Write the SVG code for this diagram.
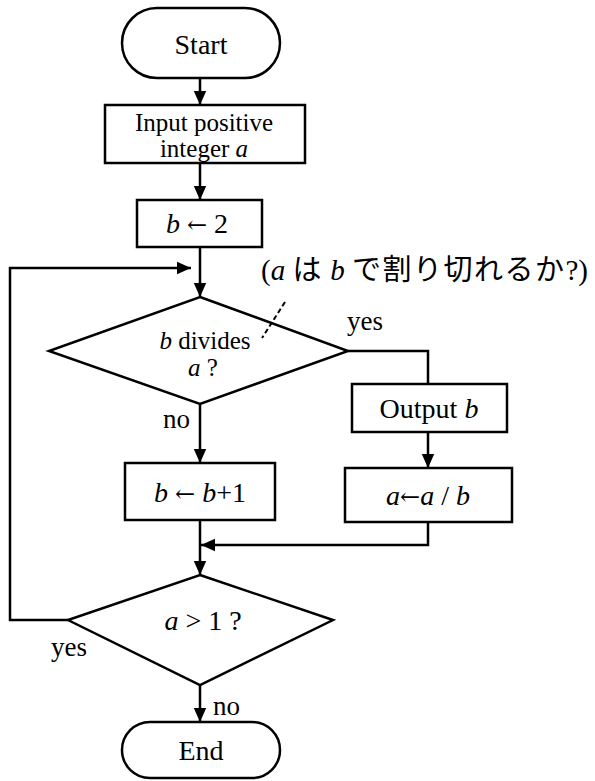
<svg xmlns="http://www.w3.org/2000/svg" width="595" height="781" viewBox="0 0 595 781">
<style>
.s{fill:#fff;stroke:#000;stroke-width:2.5}
.c{fill:none;stroke:#000;stroke-width:2.5}
.t{font-family:"Liberation Serif","Times New Roman",serif;font-size:28px;fill:#000;text-anchor:middle}
.m{font-size:25px}
.l{font-family:"Liberation Serif","Times New Roman",serif;font-size:27px;fill:#000}
.i{font-style:italic}
.r{font-family:"DejaVu Serif",serif;font-size:24px}
.j{font-family:"Liberation Serif","Noto Sans CJK JP",serif;font-size:29px;fill:#000}
.k{font-family:"Noto Sans CJK JP",sans-serif;font-size:29px;letter-spacing:1.5px}
</style>
<defs>
<marker id="ah" markerWidth="14" markerHeight="16" refX="18" refY="8" orient="auto" markerUnits="userSpaceOnUse" viewBox="0 0 18 16">
<path d="M0,0 L18,8 L0,16 Z" fill="#000"/>
</marker>
</defs>
<g id="start">
<rect class="s" x="122" y="8" width="158" height="70" rx="35" ry="35"/>
<text class="t" x="201" y="54">Start</text>
</g>
<g id="input">
<rect class="s" x="105" y="105" width="200" height="58"/>
<text class="t m" x="204" y="131">Input positive</text>
<text class="t m" x="204" y="157">integer <tspan class="i">a</tspan></text>
</g>
<g id="init">
<rect class="s" x="137" y="200" width="125" height="47"/>
<text class="t" x="197" y="233"><tspan class="i">b</tspan> <tspan class="r">←</tspan> 2</text>
</g>
<g id="divides">
<polygon class="s" points="200,297 348,351 200,404 49,351"/>
<text class="t m" x="205" y="349"><tspan class="i">b</tspan> divides</text>
<text class="t m" x="203" y="376"><tspan class="i">a</tspan> ?</text>
</g>
<g id="output">
<rect class="s" x="352" y="384" width="155" height="48"/>
<text class="t" x="429" y="418">Output <tspan class="i">b</tspan></text>
</g>
<g id="incr">
<rect class="s" x="125" y="463" width="150" height="57"/>
<text class="t" x="200" y="502"><tspan class="i">b</tspan> <tspan class="r">←</tspan> <tspan class="i">b</tspan>+1</text>
</g>
<g id="divide">
<rect class="s" x="345" y="468" width="167" height="54"/>
<text class="t" x="428" y="505"><tspan class="i">a</tspan><tspan class="r">←</tspan><tspan class="i">a</tspan> / <tspan class="i">b</tspan></text>
</g>
<g id="check">
<polygon class="s" points="200,575 333,620 200,685 68,620"/>
<text class="t" x="203" y="630"><tspan class="i">a</tspan> &gt; 1 ?</text>
</g>
<g id="end">
<rect class="s" x="122" y="722" width="158" height="56" rx="28" ry="28"/>
<text class="t" x="201" y="760">End</text>
</g>
<g id="connectors">
<line class="c" x1="200" y1="78" x2="200" y2="105" marker-end="url(#ah)"/>
<line class="c" x1="200" y1="163" x2="200" y2="200" marker-end="url(#ah)"/>
<line class="c" x1="200" y1="247" x2="200" y2="297" marker-end="url(#ah)"/>
<polyline class="c" points="68,620 10,620 10,268 191,268" marker-end="url(#ah)"/>
<polyline class="c" points="348,351 428,351 428,384"/>
<line class="c" x1="200" y1="404" x2="200" y2="463" marker-end="url(#ah)"/>
<line class="c" x1="428" y1="432" x2="428" y2="468" marker-end="url(#ah)"/>
<polyline class="c" points="428,522 428,545 201,545" marker-end="url(#ah)"/>
<line class="c" x1="200" y1="520" x2="200" y2="575" marker-end="url(#ah)"/>
<line class="c" x1="200" y1="685" x2="200" y2="722" marker-end="url(#ah)"/>
<line x1="285" y1="302" x2="262" y2="338" stroke="#000" stroke-width="2" stroke-dasharray="5,3"/>
</g>
<g id="labels">
<text class="l" x="347" y="330">yes</text>
<text class="l" x="163" y="428">no</text>
<text class="l" x="51" y="656">yes</text>
<text class="l" x="213" y="715">no</text>
<text class="j" x="261" y="280">(<tspan class="i">a</tspan> <tspan class="k">は</tspan> <tspan class="i">b</tspan> <tspan class="k">で割り切れるか</tspan>?)</text>
</g>
</svg>
